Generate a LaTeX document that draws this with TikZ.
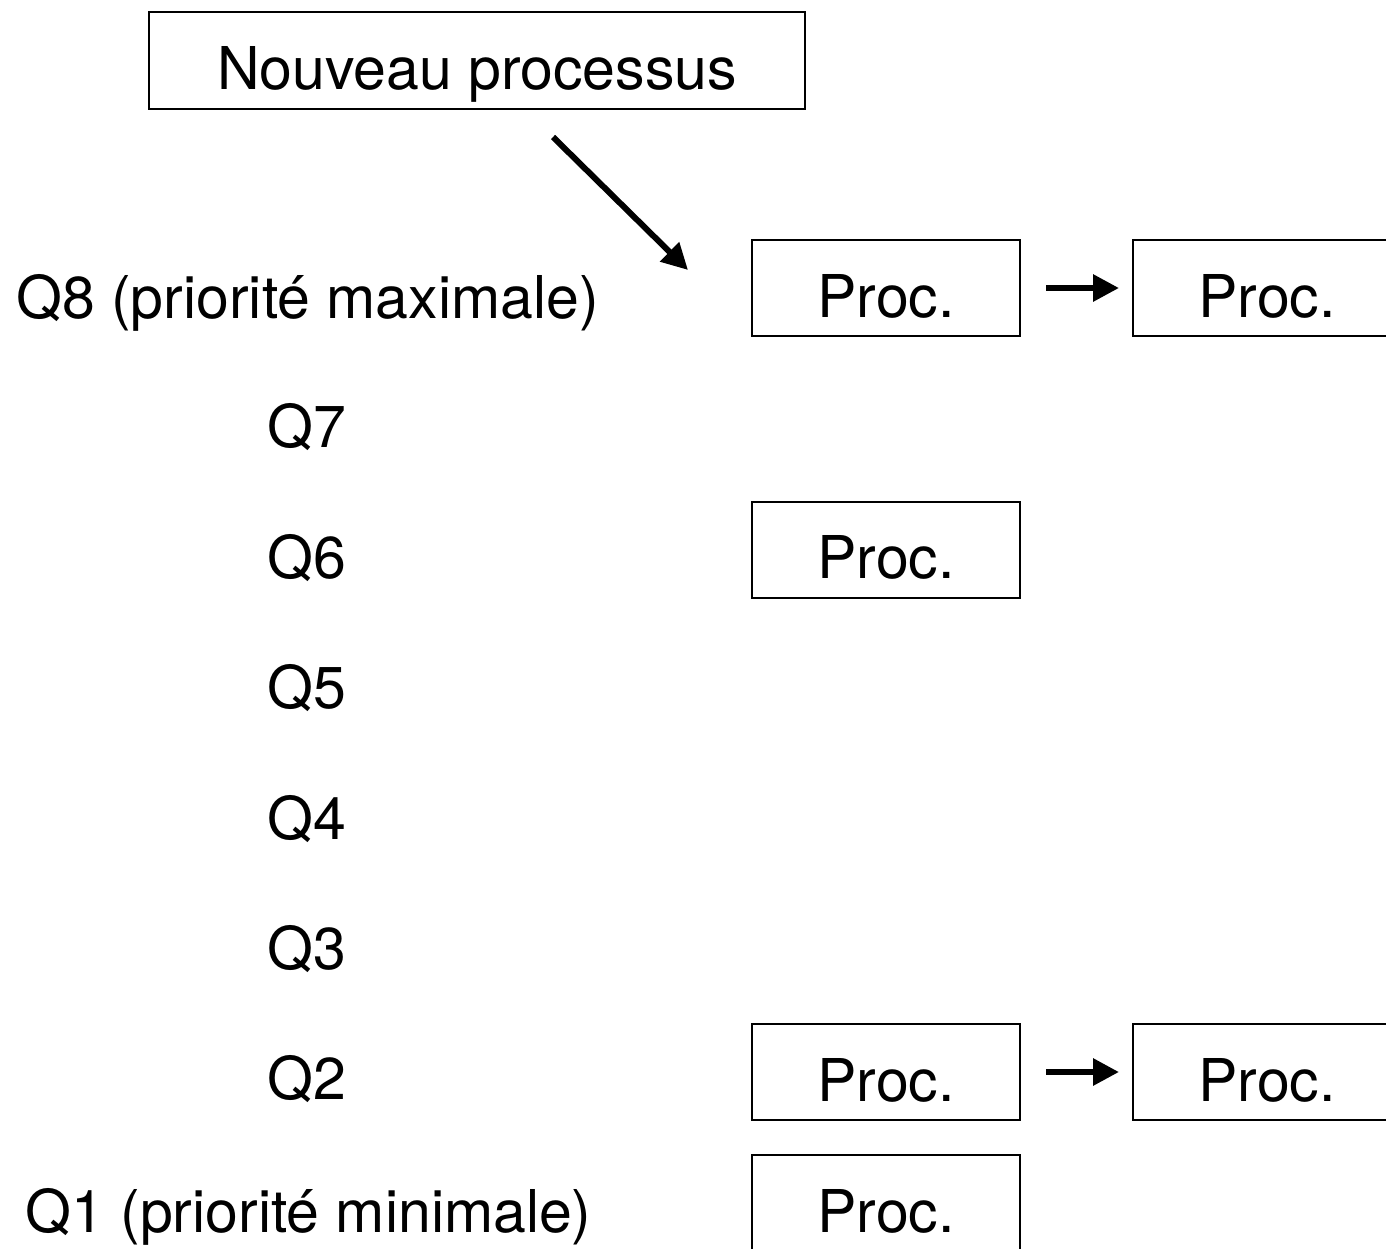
\documentclass[tikz,border=0pt]{standalone}
\usepackage{fontspec}
\setmainfont{TeX Gyre Heros}
\usetikzlibrary{arrows.meta}
\begin{document}
\begin{tikzpicture}[x=1pt,y=-1pt,
  every node/.style={font=\fontsize{59}{68}\selectfont, inner sep=0pt},
  procbox/.style={draw, line width=2pt, minimum width=268pt, minimum height=96pt, text height=58pt, text depth=0pt},
  newbox/.style={draw, line width=2pt, minimum width=656pt, minimum height=97pt, text height=58pt, text depth=0pt},
  qlabel/.style={anchor=base},
  arr/.style={line width=6pt, -{Triangle[length=26pt,width=26pt]}}]
\useasboundingbox (0,0) rectangle (1386,1248);
\clip (0,0) rectangle (1386,1248);
% new process box
\node[newbox] (new) at (477,60.5) {Nouveau processus};
\coordinate (a1) at (553,137);
\coordinate (a2) at (688,270);
\draw[arr] (a1) -- (a2);
% queue labels
\node[qlabel] (q8) at (307.5,318) {Q8 (priorité maximale)};
\node[qlabel] (q7) at (307,447) {Q7};
\node[qlabel] (q6) at (307,578) {Q6};
\node[qlabel] (q5) at (307,708) {Q5};
\node[qlabel] (q4) at (307,839) {Q4};
\node[qlabel] (q3) at (307,969) {Q3};
\node[qlabel] (q2) at (307,1099) {Q2};
\node[qlabel] (q1) at (308.5,1232) {Q1 (priorité minimale)};
% process boxes
\node[procbox] (p8a) at (886,288) {Proc.};
\node[procbox] (p8b) at (1267,288) {Proc.};
\node[procbox] (p6) at (886,549.5) {Proc.};
\node[procbox] (p2a) at (886,1072) {Proc.};
\node[procbox] (p2b) at (1267,1072) {Proc.};
\node[procbox] (p1) at (886,1203) {Proc.};
% arrows between processes
\draw[arr, shorten <=25pt, shorten >=13pt] (p8a.east) -- (p8b.west);
\draw[arr, shorten <=25pt, shorten >=13pt] (p2a.east) -- (p2b.west);
\end{tikzpicture}
\end{document}
